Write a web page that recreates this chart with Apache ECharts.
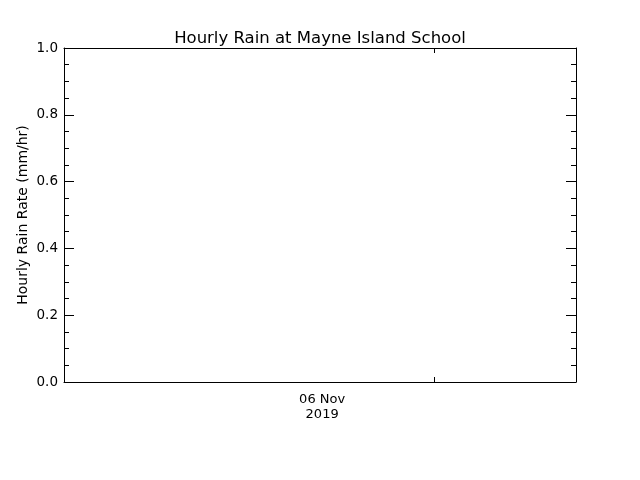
<!DOCTYPE html>
<html lang="en">
<head>
<meta charset="UTF-8">
<title>Hourly Rain at Mayne Island School</title>
<script src="https://cdn.jsdelivr.net/npm/echarts@6/dist/echarts.min.js"></script>
<style>
  html, body { margin: 0; padding: 0; background: #fff; }
  #main { width: 640px; height: 480px; }
</style>
</head>
<body>
<div id="main"></div>
<script>
// x in hours from the left edge of the plot window
var xMin = 0;
var xMax = 24;
var dayTicks = [17.35];          // midnight tick inside the window
var dateLabelPos = [12.1];       // where the date label sits
var dateLabels = ['06 Nov\n2019'];

// hourly rain: no records in this window
var rainTimes = [];
var rainRates = [];

var yMin = 0, yMax = 1, yStep = 0.2;

var font = 'DejaVu Sans';
var chart = echarts.init(document.getElementById('main'));

var pts = rainTimes.map(function (t, i) { return [t, rainRates[i]]; });

var xBase = {
    type: 'value', min: xMin, max: xMax,
    axisLine: { show: true, onZero: false, lineStyle: { color: '#000', width: 1 } },
    axisTick: { show: true, inside: true, length: 5, customValues: dayTicks, lineStyle: { color: '#000' } },
    splitLine: { show: false }
};

var yBase = {
    type: 'value', min: yMin, max: yMax, interval: yStep,
    axisLine: { show: true, onZero: false, lineStyle: { color: '#000', width: 1 } },
    axisTick: { show: true, inside: true, length: 10, lineStyle: { color: '#000' } },
    minorTick: { show: true, splitNumber: 4, length: 5, lineStyle: { color: '#000' } },
    splitLine: { show: false }
};

chart.setOption({
    backgroundColor: '#fff',
    animation: false,
    title: {
        text: 'Hourly Rain at Mayne Island School',
        left: 'center', top: 25,
        textStyle: { fontFamily: font, fontSize: 16.5, fontWeight: 'normal', color: '#000' }
    },
    grid: { left: 64, right: 64, top: 48, bottom: 98, containLabel: false },
    xAxis: [
        Object.assign({}, xBase, {
            position: 'bottom',
            axisLabel: {
                show: true, customValues: dateLabelPos, margin: 10,
                formatter: function () { return dateLabels[0]; },
                fontFamily: font, fontSize: 13, color: '#000', lineHeight: 15
            }
        }),
        Object.assign({}, xBase, { position: 'top', axisLabel: { show: false } })
    ],
    yAxis: [
        Object.assign({}, yBase, {
            position: 'left',
            name: 'Hourly Rain Rate (mm/hr)',
            nameLocation: 'middle', nameGap: 34, nameMoveOverlap: false,
            nameTextStyle: { fontFamily: font, fontSize: 14, color: '#000' },
            axisLabel: {
                margin: 6, fontFamily: font, fontSize: 13.5, color: '#000',
                formatter: function (v) { return v.toFixed(1); }
            }
        }),
        Object.assign({}, yBase, { position: 'right', axisLabel: { show: false } })
    ],
    series: [{
        type: 'line', xAxisIndex: 0, yAxisIndex: 0,
        data: pts, symbol: 'none',
        lineStyle: { color: '#000', width: 1 }
    }]
});
</script>
</body>
</html>
